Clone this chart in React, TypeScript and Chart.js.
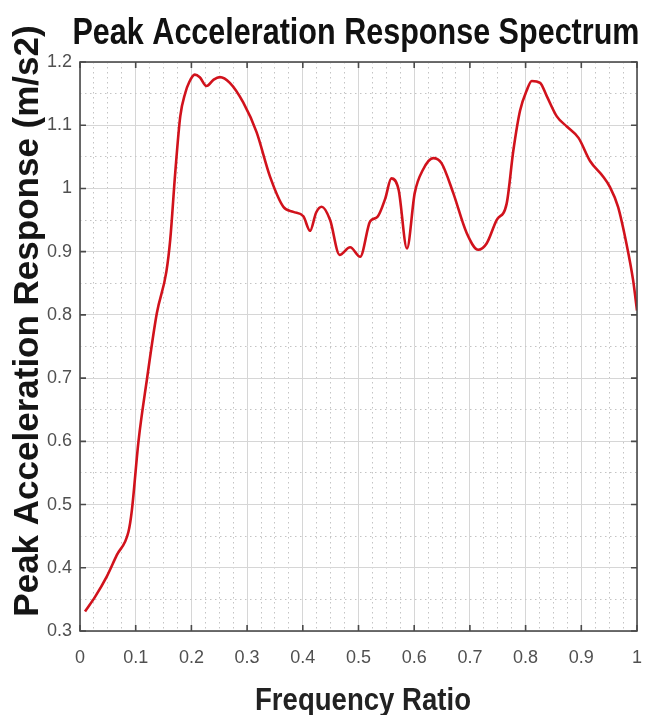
import React, { useEffect, useRef } from "react";
import { Chart, registerables } from "chart.js";

Chart.register(...registerables);

const chartTitle = "Peak Acceleration Response Spectrum";
const xAxisTitle = "Frequency Ratio";
const yAxisTitle = "Peak Acceleration Response (m/s2)";

const freqRatio = [
  0.009, 0.027, 0.048, 0.066, 0.087, 0.093, 0.105, 0.12, 0.138, 0.155,
  0.162, 0.171, 0.18, 0.189, 0.196, 0.206, 0.215, 0.227, 0.24, 0.251,
  0.269, 0.293, 0.317, 0.341, 0.365, 0.383, 0.401, 0.413, 0.424, 0.434,
  0.449, 0.466, 0.485, 0.503, 0.521, 0.534, 0.548, 0.559, 0.572, 0.587,
  0.601, 0.616, 0.634, 0.649, 0.67, 0.694, 0.715, 0.73, 0.748, 0.766,
  0.778, 0.79, 0.802, 0.811, 0.826, 0.838, 0.856, 0.874, 0.895, 0.916,
  0.939, 0.951, 0.966, 0.981, 0.993, 1.0,
];
const peakAccel = [
  0.331, 0.354, 0.386, 0.42, 0.457, 0.49, 0.6, 0.697, 0.803, 0.868,
  0.919, 1.025, 1.114, 1.151, 1.168, 1.18, 1.176, 1.162, 1.172, 1.176,
  1.167, 1.136, 1.089, 1.019, 0.971, 0.963, 0.956, 0.933, 0.962, 0.971,
  0.95, 0.895, 0.907, 0.892, 0.948, 0.955, 0.984, 1.016, 0.998, 0.905,
  0.993, 1.03, 1.048, 1.04, 0.993, 0.93, 0.903, 0.913, 0.95, 0.976,
  1.06, 1.123, 1.155, 1.17, 1.167, 1.146, 1.114, 1.098, 1.08, 1.043,
  1.019, 1.003, 0.971, 0.913, 0.855, 0.807,
];

const xTickLabels = ["0", "0.1", "0.2", "0.3", "0.4", "0.5", "0.6", "0.7", "0.8", "0.9", "1"];
const yTickLabels = ["0.3", "0.4", "0.5", "0.6", "0.7", "0.8", "0.9", "1", "1.1", "1.2"];

const isMajor = (v: number) => Math.abs(v * 10 - Math.round(v * 10)) < 1e-6;

const FONT = "'Liberation Sans', Arial, sans-serif";

const boxPlugin = {
  id: "boxAndTitles",
  afterDraw(chart: any) {
    const { ctx, chartArea } = chart;
    const { left, right, top, bottom } = chartArea;
    const xs = chart.scales.x;
    const ys = chart.scales.y;
    ctx.save();
    ctx.strokeStyle = "#4a4a4a";
    ctx.lineWidth = 1.6;
    ctx.beginPath();
    const tl = 6;
    xTickLabels.forEach((_, i) => {
      const px = xs.getPixelForValue(i / 10);
      ctx.moveTo(px, bottom);
      ctx.lineTo(px, bottom - tl);
      ctx.moveTo(px, top);
      ctx.lineTo(px, top + tl);
    });
    yTickLabels.forEach((_, i) => {
      const py = ys.getPixelForValue(0.3 + i / 10);
      ctx.moveTo(left, py);
      ctx.lineTo(left + tl, py);
      ctx.moveTo(right, py);
      ctx.lineTo(right - tl, py);
    });
    ctx.stroke();
    ctx.strokeRect(left, top, right - left, bottom - top);
    ctx.restore();

    // chart title
    ctx.save();
    ctx.font = `bold 37px ${FONT}`;
    ctx.fillStyle = "#111111";
    ctx.textAlign = "center";
    ctx.textBaseline = "alphabetic";
    ctx.fillText(chartTitle, 356, 44, 567);
    // x axis title
    ctx.font = `bold 32px ${FONT}`;
    ctx.fillStyle = "#222222";
    ctx.fillText(xAxisTitle, 363, 710, 216);
    ctx.restore();

    // y axis title
    ctx.save();
    ctx.translate(28, 321);
    ctx.rotate(-Math.PI / 2);
    ctx.font = `bold 35px ${FONT}`;
    ctx.fillStyle = "#151515";
    ctx.textAlign = "center";
    ctx.textBaseline = "middle";
    ctx.fillText(yAxisTitle, 0, 0);
    ctx.restore();
  },
};

export default function App() {
  const ref = useRef<HTMLCanvasElement>(null);
  useEffect(() => {
    const canvas = ref.current!;
    const gridColor = (c: any) => (isMajor(c.tick.value) ? "#d6d6d6" : "#c4c4c4");
    const gridDash = (c: any) => (c.tick && !isMajor(c.tick.value) ? [1.5, 3.5] : []);
    const chart = new Chart(canvas, {
      type: "line",
      data: {
        datasets: [
          {
            data: freqRatio.map((x, i) => ({ x, y: peakAccel[i] })),
            borderColor: "#d1121c",
            borderWidth: 2.6,
            pointRadius: 0,
            cubicInterpolationMode: "monotone",
            fill: false,
          },
        ],
      },
      options: {
        responsive: false,
        animation: false,
        devicePixelRatio: 1,
        layout: { padding: { left: 0, right: 24, top: 62, bottom: 0 } },
        plugins: {
          legend: { display: false },
          tooltip: { enabled: false },
          title: { display: false },
        },
        scales: {
          x: {
            type: "linear",
            min: 0,
            max: 1,
            afterFit: (s: any) => {
              s.height = 84;
            },
            ticks: {
              stepSize: 0.025,
              autoSkip: false,
              maxRotation: 0,
              padding: 16,
              color: "#505050",
              font: { family: FONT, size: 18 },
              callback: (v: any) => (isMajor(Number(v)) ? xTickLabels[Math.round(Number(v) * 10)] : ""),
            },
            grid: {
              drawTicks: false,
              color: gridColor,
              lineWidth: 1,
            },
            border: { display: false, dash: gridDash },
          },
          y: {
            type: "linear",
            min: 0.3,
            max: 1.2,
            afterFit: (s: any) => {
              s.width = 80;
            },
            ticks: {
              stepSize: 0.05,
              autoSkip: false,
              padding: 8,
              color: "#505050",
              font: { family: FONT, size: 18 },
              callback: (v: any) =>
                isMajor(Number(v)) ? yTickLabels[Math.round((Number(v) - 0.3) * 10)] : "",
            },
            grid: {
              drawTicks: false,
              color: gridColor,
              lineWidth: 1,
            },
            border: { display: false, dash: gridDash },
          },
        },
      },
      plugins: [boxPlugin],
    } as any);
    return () => chart.destroy();
  }, []);
  return (
    <div style={{ position: "fixed", left: 0, top: 0, width: 661, height: 715, background: "#ffffff" }}>
      <canvas ref={ref} width={661} height={715} style={{ display: "block", width: 661, height: 715 }} />
    </div>
  );
}
